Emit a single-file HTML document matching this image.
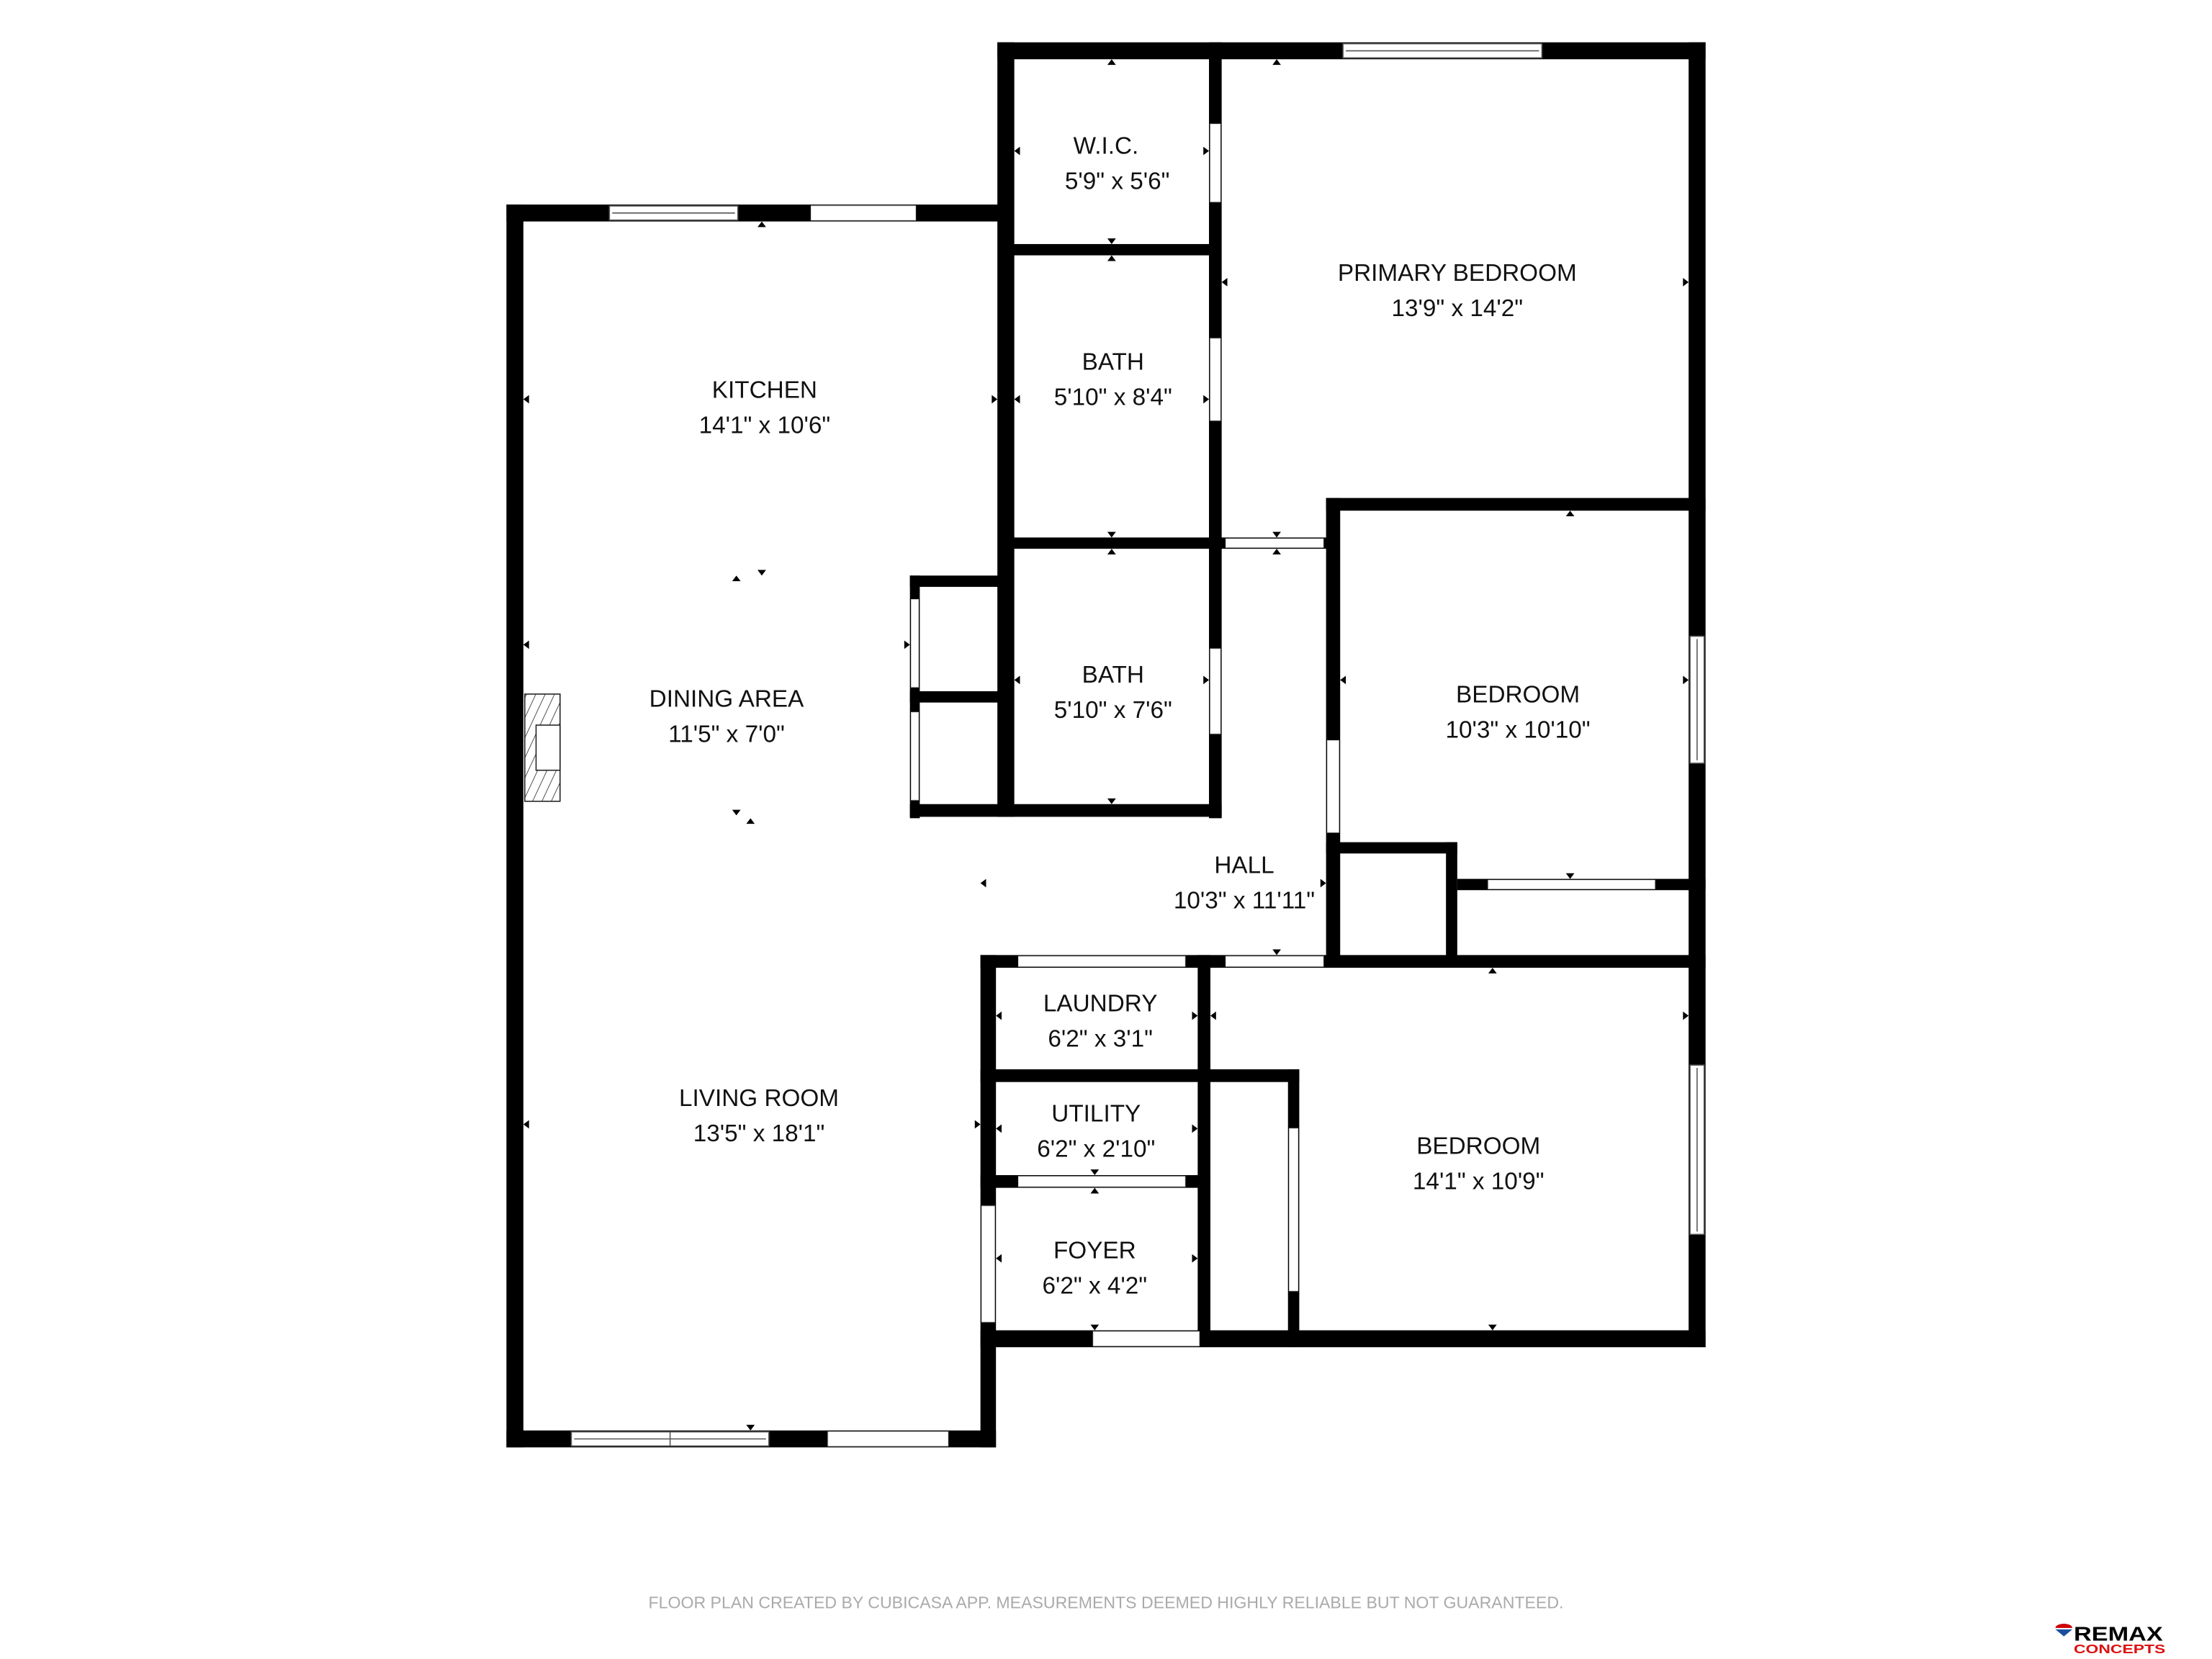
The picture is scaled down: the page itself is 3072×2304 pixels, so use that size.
<!DOCTYPE html>
<html><head><meta charset="utf-8"><style>
html,body{margin:0;padding:0;background:#fff;width:3072px;height:2304px;overflow:hidden}
svg{display:block}
text{font-family:"Liberation Sans",sans-serif;fill:#111}
</style></head><body>
<svg width="3072" height="2304" viewBox="0 0 1568 1176" xmlns="http://www.w3.org/2000/svg">
<defs>
<pattern id="h" width="6" height="6" patternUnits="userSpaceOnUse" patternTransform="rotate(25)">
<line x1="0" y1="0" x2="0" y2="6" stroke="#222" stroke-width="0.8"/></pattern>
</defs>
<g fill="#000">
<rect x="359" y="145" width="12" height="881"/>
<rect x="359" y="145" width="353" height="12"/>
<rect x="707" y="30" width="12" height="549"/>
<rect x="707" y="30" width="502" height="12"/>
<rect x="1197" y="30" width="12" height="925"/>
<rect x="695" y="943" width="514" height="12"/>
<rect x="359" y="1014" width="347" height="12"/>
<rect x="695" y="677" width="11" height="349"/>
<rect x="712" y="173" width="153" height="8"/>
<rect x="857" y="30" width="9" height="550"/>
<rect x="712" y="381" width="233" height="8"/>
<rect x="645" y="570" width="221" height="9"/>
<rect x="645" y="408" width="7" height="172"/>
<rect x="645" y="408" width="67" height="8"/>
<rect x="645" y="490" width="67" height="8"/>
<rect x="940" y="353" width="269" height="9"/>
<rect x="940" y="353" width="10" height="327"/>
<rect x="940" y="597" width="93" height="8"/>
<rect x="1025" y="597" width="8" height="88"/>
<rect x="1033" y="623" width="176" height="8"/>
<rect x="695" y="677" width="514" height="9"/>
<rect x="849" y="677" width="9" height="278"/>
<rect x="695" y="758" width="226" height="9"/>
<rect x="913" y="758" width="8" height="197"/>
<rect x="695" y="833" width="163" height="9"/>
</g>
<g fill="#fff" stroke="#ddd" stroke-width="0.6">
<rect x="575" y="146" width="74" height="10"/>
<rect x="587" y="1015" width="85" height="10"/>
<rect x="775" y="944" width="75" height="10"/>
<rect x="858" y="88" width="7" height="55"/>
<rect x="858" y="240" width="7" height="58"/>
<rect x="858" y="460" width="7" height="60"/>
<rect x="869" y="382" width="69" height="6"/>
<rect x="941" y="525" width="8" height="65"/>
<rect x="1055" y="624" width="118" height="6"/>
<rect x="722" y="678" width="118" height="7"/>
<rect x="869" y="678" width="69" height="7"/>
<rect x="914" y="800" width="6" height="115"/>
<rect x="722" y="834" width="118" height="7"/>
<rect x="696" y="855" width="9" height="82"/>
<rect x="646" y="425" width="5" height="62"/>
<rect x="646" y="505" width="5" height="62"/>
</g>
<g fill="#000">
<path d="M788 42 l-3 4 h6z"/><path d="M905 42 l-3 4 h6z"/><path d="M540 157 l-3 4 h6z"/>
<path d="M719 107 l4 -3 v6z"/><path d="M857 107 l-4 -3 v6z"/>
<path d="M788 173 l-3 -4 h6z"/><path d="M788 181 l-3 4 h6z"/>
<path d="M866 200 l4 -3 v6z"/><path d="M1197 200 l-4 -3 v6z"/>
<path d="M371 283 l4 -3 v6z"/><path d="M707 283 l-4 -3 v6z"/><path d="M719 283 l4 -3 v6z"/><path d="M857 283 l-4 -3 v6z"/>
<path d="M788 381 l-3 -4 h6z"/><path d="M788 389 l-3 4 h6z"/><path d="M905 381 l-3 -4 h6z"/><path d="M905 389 l-3 4 h6z"/>
<path d="M1113 362 l-3 4 h6z"/><path d="M522 408 l-3 4 h6z"/><path d="M540 408 l-3 -4 h6z"/>
<path d="M371 457 l4 -3 v6z"/><path d="M645 457 l-4 -3 v6z"/>
<path d="M719 482 l4 -3 v6z"/><path d="M857 482 l-4 -3 v6z"/><path d="M950 482 l4 -3 v6z"/><path d="M1197 482 l-4 -3 v6z"/>
<path d="M788 570 l-3 -4 h6z"/><path d="M522 578 l-3 -4 h6z"/><path d="M532 580 l-3 4 h6z"/>
<path d="M695 626 l4 -3 v6z"/><path d="M940 626 l-4 -3 v6z"/><path d="M1113 623 l-3 -4 h6z"/>
<path d="M905 677 l-3 -4 h6z"/><path d="M1058 686 l-3 4 h6z"/>
<path d="M706 720 l4 -3 v6z"/><path d="M849 720 l-4 -3 v6z"/><path d="M858 720 l4 -3 v6z"/><path d="M1197 720 l-4 -3 v6z"/>
<path d="M371 797 l4 -3 v6z"/><path d="M695 797 l-4 -3 v6z"/><path d="M706 800 l4 -3 v6z"/><path d="M849 800 l-4 -3 v6z"/>
<path d="M776 833 l-3 -4 h6z"/><path d="M776 842 l-3 4 h6z"/>
<path d="M706 892 l4 -3 v6z"/><path d="M849 892 l-4 -3 v6z"/>
<path d="M776 943 l-3 -4 h6z"/><path d="M1058 943 l-3 -4 h6z"/><path d="M532 1014 l-3 -4 h6z"/>
</g>
<g fill="#fff" stroke="#555" stroke-width="0.8">
<rect x="432" y="146" width="91" height="10"/><line x1="434" y1="151" x2="521" y2="151"/>
<rect x="952" y="31" width="141" height="10"/><line x1="954" y1="36" x2="1091" y2="36"/>
<rect x="405" y="1015" width="140" height="10"/><line x1="407" y1="1020" x2="543" y2="1020"/><line x1="475" y1="1015" x2="475" y2="1025"/>
<rect x="1198" y="451" width="10" height="90"/><line x1="1203" y1="453" x2="1203" y2="539"/>
<rect x="1198" y="755" width="10" height="120"/><line x1="1203" y1="757" x2="1203" y2="873"/>
</g>
<rect x="372" y="492" width="25" height="76" fill="url(#h)" stroke="#222" stroke-width="0.8"/>
<rect x="380" y="514" width="17" height="32" fill="#fff" stroke="#222" stroke-width="0.8"/>
<g font-size="17" text-anchor="middle">
<text x="784" y="109">W.I.C.</text><text x="792" y="134">5'9" x 5'6"</text>
<text x="1033" y="199">PRIMARY BEDROOM</text><text x="1033" y="224">13'9" x 14'2"</text>
<text x="542" y="282">KITCHEN</text><text x="542" y="307">14'1" x 10'6"</text>
<text x="789" y="262">BATH</text><text x="789" y="287">5'10" x 8'4"</text>
<text x="789" y="484">BATH</text><text x="789" y="509">5'10" x 7'6"</text>
<text x="1076" y="498">BEDROOM</text><text x="1076" y="523">10'3" x 10'10"</text>
<text x="515" y="501">DINING AREA</text><text x="515" y="526">11'5" x 7'0"</text>
<text x="882" y="619">HALL</text><text x="882" y="644">10'3" x 11'11"</text>
<text x="780" y="717">LAUNDRY</text><text x="780" y="742">6'2" x 3'1"</text>
<text x="777" y="795">UTILITY</text><text x="777" y="820">6'2" x 2'10"</text>
<text x="538" y="784">LIVING ROOM</text><text x="538" y="809">13'5" x 18'1"</text>
<text x="1048" y="818">BEDROOM</text><text x="1048" y="843">14'1" x 10'9"</text>
<text x="776" y="892">FOYER</text><text x="776" y="917">6'2" x 4'2"</text>
</g>
<text x="784" y="1140" font-size="11.8" text-anchor="middle" style="fill:#aaa">FLOOR PLAN CREATED BY CUBICASA APP. MEASUREMENTS DEEMED HIGHLY RELIABLE BUT NOT GUARANTEED.</text>
<path d="M1457 1154 h12 a6 3 0 0 0 -12 0z" fill="#c00"/>
<path d="M1457 1155 h12 l-6 5z" fill="#1a4fa0"/>
<text x="1470" y="1163" font-size="14" font-weight="bold" style="fill:#000" transform="translate(1470 0) scale(1.25 1) translate(-1470 0)">REMAX</text>
<text x="1470" y="1172" font-size="9" font-weight="bold" style="fill:#d11" transform="translate(1470 0) scale(1.3 1) translate(-1470 0)">CONCEPTS</text>
</svg>
</body></html>
